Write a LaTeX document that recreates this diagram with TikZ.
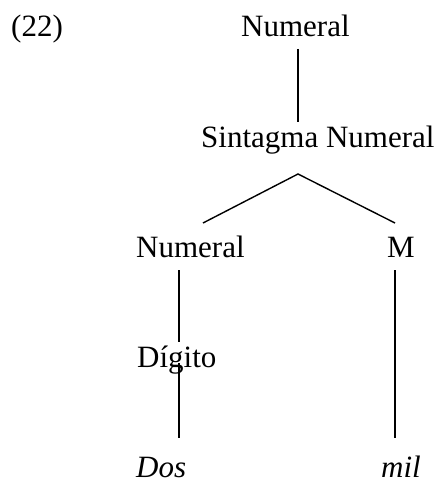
\documentclass[tikz,border=0pt]{standalone}
\usepackage{fontspec}
\setmainfont{Liberation Serif}
\begin{document}
\begin{tikzpicture}[x=1pt,y=-1pt,
  lbl/.style={inner sep=0pt,anchor=base west,font=\fontsize{31}{31}\selectfont},
  branch/.style={line width=1.4pt}]
\useasboundingbox (0,0) rectangle (443,481);
% labels
\node[lbl] (ex)   at (11,37)  {(22)};
\node[lbl] (num)  at (241,37) {Numeral};
\node[lbl] (sn)   at (201,147) {Sintagma Numeral};
\node[lbl] (numl) at (136,257) {Numeral};
\node[lbl] (m)    at (387,257) {M};
\node[lbl] (dig)  at (137,367) {Dígito};
\node[lbl] (dos)  at (136,477) {\itshape Dos};
\node[lbl] (mil)  at (381,477) {\itshape mil};
% branch end points
\coordinate (numB)  at (298,49);
\coordinate (snT)   at (298,122);
\coordinate (snB)   at (298,174);
\coordinate (numlT) at (203,223);
\coordinate (mT)    at (395,223);
\coordinate (numlB) at (179,270);
\coordinate (digT)  at (179,342);
\coordinate (digB)  at (179,363);
\coordinate (dosT)  at (179,438);
\coordinate (mB)    at (395,270);
\coordinate (milT)  at (395,438);
% branches
\draw[branch] (numB) -- (snT);
\draw[branch] (numlT) -- (snB) -- (mT);
\draw[branch] (numlB) -- (digT);
\draw[branch] (digB) -- (dosT);
\draw[branch] (mB) -- (milT);
\end{tikzpicture}
\end{document}
